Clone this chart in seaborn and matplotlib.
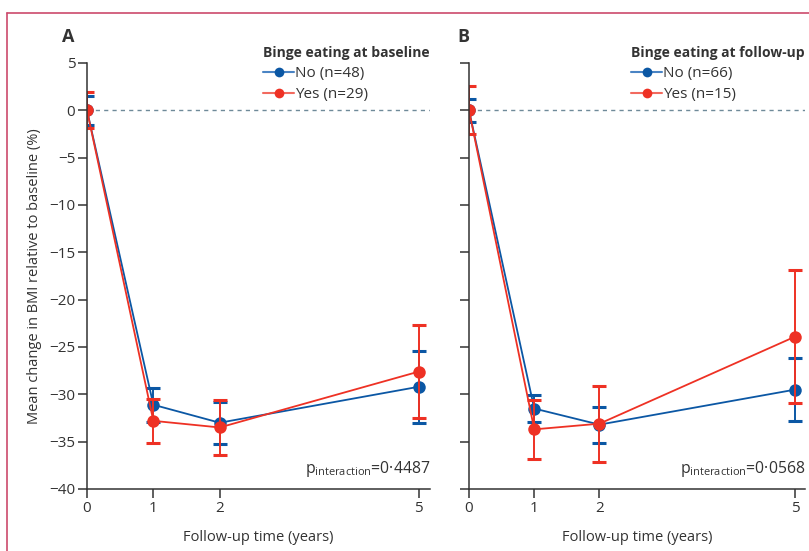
import numpy as np
import pandas as pd
import matplotlib
matplotlib.use("Agg")
import matplotlib.pyplot as plt
import seaborn as sns
from matplotlib.lines import Line2D

# ---------------- data ----------------
years = [0, 1, 2, 5]

a_no_mean = [0.0, -31.1, -33.0, -29.2]
a_no_err = [1.5, 1.8, 2.2, 3.8]
a_yes_mean = [0.0, -32.8, -33.5, -27.6]
a_yes_err = [1.9, 2.3, 2.9, 4.9]

b_no_mean = [0.0, -31.5, -33.2, -29.5]
b_no_err = [1.2, 1.45, 1.9, 3.3]
b_yes_mean = [0.0, -33.7, -33.1, -23.9]
b_yes_err = [2.55, 3.15, 4.0, 7.0]

a_labels = ["No (n=48)", "Yes (n=29)"]
b_labels = ["No (n=66)", "Yes (n=15)"]
a_title = "Binge eating at baseline"
b_title = "Binge eating at follow-up"
a_p = "0·4487"
b_p = "0·0568"
y_ticks = [5, 0, -5, -10, -15, -20, -25, -30, -35, -40]
x_ticks = [0, 1, 2, 5]

# ---------------- style ----------------
sns.set_theme(style="ticks")
plt.rcParams["font.family"] = ["Open Sans", "DejaVu Sans"]
plt.rcParams["mathtext.fontset"] = "custom"
plt.rcParams["mathtext.rm"] = "Open Sans"
TXT = "#333333"
BLUE = "#0b57a4"
RED = "#ee3124"
BLUE_L = "#4a84c4"
RED_L = "#f26a5f"

fig = plt.figure(figsize=(8.09, 5.51), dpi=100)
W, H = 809, 551


def ax_rect(x0, x1, ytop, ybot):
    return [x0 / W, 1 - ybot / H, (x1 - x0) / W, (ybot - ytop) / H]


axA = fig.add_axes(ax_rect(87, 430, 63, 489))
axB = fig.add_axes(ax_rect(469, 805, 63, 489))


def draw_panel(ax, no_mean, no_err, yes_mean, yes_err, labels, title, pval, xmax, show_ylabels):
    df = pd.DataFrame({
        "year": years * 2,
        "mean": no_mean + yes_mean,
        "err": no_err + yes_err,
        "group": [labels[0]] * 4 + [labels[1]] * 4,
    })
    ax.axhline(0, color="#6f8a99", ls=(0, (3, 3)), lw=1.0, zorder=1)
    for i, (g, col) in enumerate(zip(labels, [BLUE, RED])):
        sub = df[df["group"] == g]
        ax.errorbar(sub["year"], sub["mean"], yerr=sub["err"], fmt="none",
                    ecolor=col, elinewidth=1.4, capsize=4.8, capthick=2.2,
                    zorder=1.5 + i * 0.5)
        sns.lineplot(data=sub, x="year", y="mean", color=col, marker="o",
                     markersize=9, markeredgewidth=0, linewidth=1.3,
                     errorbar=None, ax=ax, legend=False, zorder=2 + i * 0.5)
    ax.set_xlim(0, xmax)
    ax.set_ylim(-40, 5)
    ax.set_xticks(x_ticks)
    ax.set_yticks(y_ticks)
    ax.set_xlabel("Follow-up time (years)", fontsize=10.5, color=TXT, labelpad=10)
    sns.despine(ax=ax)
    for s in ["left", "bottom"]:
        ax.spines[s].set_color(TXT)
        ax.spines[s].set_linewidth(1.1)
    ax.tick_params(direction="out", length=6.5, width=1.1, colors=TXT,
                   labelsize=11, labelcolor=TXT, pad=2)
    if show_ylabels:
        ax.set_ylabel("Mean change in BMI relative to baseline (%)",
                      fontsize=10.5, color=TXT, labelpad=5)
    else:
        ax.set_yticklabels([])
        ax.set_ylabel("")
    handles = [
        Line2D([], [], color=BLUE_L, lw=1.5, marker="o", markersize=7,
               markerfacecolor=BLUE, markeredgewidth=0),
        Line2D([], [], color=RED_L, lw=1.5, marker="o", markersize=7,
               markerfacecolor=RED, markeredgewidth=0),
    ]
    leg = ax.legend(handles, labels, title=title, loc="upper right",
                    bbox_to_anchor=(1.0, 1.04), frameon=False, fontsize=11,
                    title_fontproperties={"weight": "bold", "size": 10},
                    alignment="left", handlelength=2.0, handletextpad=0.1,
                    labelspacing=0.4, borderpad=0, borderaxespad=0)
    leg.get_title().set_color(TXT)
    for t in leg.get_texts():
        t.set_color(TXT)
    ax.text(1.0, 0.047, r"p$_{\mathregular{interaction}}$=" + pval,
            transform=ax.transAxes, ha="right", va="center",
            fontsize=11.3, color=TXT)


draw_panel(axA, a_no_mean, a_no_err, a_yes_mean, a_yes_err, a_labels,
           a_title, a_p, 5.17, True)
draw_panel(axB, b_no_mean, b_no_err, b_yes_mean, b_yes_err, b_labels,
           b_title, b_p, 5.15, False)

fig.text(62 / W, 1 - 37 / H, "A", fontsize=13, fontweight="bold", color=TXT,
         ha="left", va="center")
fig.text(457 / W, 1 - 37 / H, "B", fontsize=13, fontweight="bold", color=TXT,
         ha="left", va="center")

# Lancet-style border
border = "#cc4a6c"
fig.add_artist(Line2D([7 / W, 7 / W], [0, 1 - 13 / H], transform=fig.transFigure,
                      color=border, lw=1.2))
fig.add_artist(Line2D([7 / W, 1], [1 - 13 / H, 1 - 13 / H], transform=fig.transFigure,
                      color=border, lw=1.2))

fig.savefig("out.png", dpi=100)
